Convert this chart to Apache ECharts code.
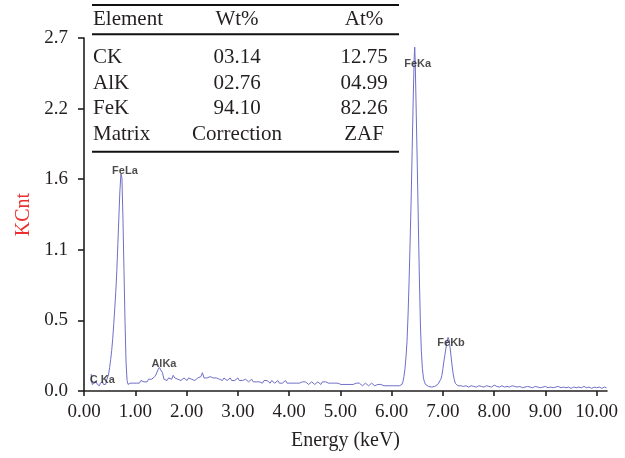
<!DOCTYPE html>
<html>
<head>
<meta charset="utf-8">
<title>EDS spectrum</title>
<script src="https://cdn.jsdelivr.net/npm/echarts@6/dist/echarts.min.js"></script>
<style>
  html, body { margin: 0; padding: 0; background: #fff; }
  #chart { width: 625px; height: 458px; }
</style>
</head>
<body>
<div id="chart"></div>
<script>
// EDS spectrum: [energy keV, KCnt]
const spectrum = [
  [0.14,0.13],[0.16,0.05],[0.18,0.04],[0.20,0.06],[0.22,0.05],[0.24,0.07],[0.26,0.05],[0.28,0.06],
  [0.30,0.04],[0.32,0.06],[0.34,0.05],[0.36,0.07],[0.38,0.05],[0.40,0.06],[0.42,0.05],[0.44,0.08],
  [0.46,0.09],[0.48,0.13],[0.50,0.18],[0.52,0.24],[0.54,0.31],[0.56,0.40],[0.58,0.51],[0.60,0.63],
  [0.62,0.76],[0.64,0.92],[0.66,1.12],[0.68,1.33],[0.70,1.53],[0.72,1.66],[0.74,1.63],[0.76,1.32],
  [0.78,0.92],[0.80,0.53],[0.82,0.22],[0.84,0.08],[0.86,0.05],[0.88,0.05],[0.90,0.06],[0.93,0.05],
  [0.96,0.06],[0.99,0.07],[1.02,0.06],[1.05,0.07],[1.08,0.06],[1.11,0.08],[1.14,0.07],[1.17,0.07],
  [1.20,0.08],[1.23,0.07],[1.26,0.09],[1.29,0.08],[1.32,0.09],[1.35,0.10],[1.38,0.11],[1.41,0.13],
  [1.44,0.16],[1.47,0.18],[1.50,0.19],[1.53,0.14],[1.56,0.09],[1.59,0.08],[1.62,0.08],[1.65,0.10],
  [1.68,0.11],[1.71,0.09],[1.74,0.12],[1.77,0.10],[1.80,0.11],[1.83,0.09],[1.86,0.10],[1.89,0.08],
  [1.92,0.09],[1.95,0.10],[1.98,0.09],[2.01,0.08],[2.04,0.10],[2.07,0.09],[2.10,0.09],[2.13,0.10],
  [2.16,0.08],[2.19,0.09],[2.22,0.10],[2.25,0.09],[2.28,0.11],[2.31,0.14],[2.34,0.10],[2.37,0.11],
  [2.40,0.10],[2.43,0.09],[2.46,0.11],[2.49,0.12],[2.52,0.10],[2.55,0.09],[2.58,0.10],[2.61,0.11],
  [2.64,0.09],[2.67,0.10],[2.70,0.08],[2.73,0.10],[2.76,0.09],[2.79,0.08],[2.82,0.09],[2.85,0.10],
  [2.88,0.08],[2.91,0.09],[2.94,0.08],[2.97,0.09],[3.00,0.10],[3.03,0.08],[3.06,0.09],[3.09,0.08],
  [3.12,0.07],[3.15,0.09],[3.18,0.08],[3.21,0.07],[3.24,0.08],[3.27,0.09],[3.30,0.07],[3.33,0.08],
  [3.36,0.07],[3.39,0.08],[3.42,0.07],[3.45,0.08],[3.48,0.06],[3.51,0.08],[3.54,0.07],[3.57,0.08],
  [3.60,0.07],[3.63,0.06],[3.66,0.08],[3.69,0.07],[3.72,0.06],[3.75,0.07],[3.78,0.08],[3.81,0.06],
  [3.84,0.07],[3.87,0.06],[3.90,0.07],[3.93,0.08],[3.96,0.06],[3.99,0.07],[4.02,0.06],[4.05,0.07],
  [4.08,0.06],[4.11,0.07],[4.14,0.06],[4.17,0.07],[4.20,0.06],[4.23,0.05],[4.26,0.07],[4.29,0.06],
  [4.32,0.07],[4.35,0.06],[4.38,0.05],[4.41,0.06],[4.44,0.07],[4.47,0.06],[4.50,0.05],[4.53,0.06],
  [4.56,0.07],[4.59,0.06],[4.62,0.05],[4.65,0.07],[4.68,0.06],[4.71,0.07],[4.74,0.08],[4.77,0.06],
  [4.80,0.05],[4.83,0.06],[4.86,0.05],[4.89,0.06],[4.92,0.05],[4.95,0.06],[4.98,0.07],[5.01,0.05],
  [5.04,0.06],[5.07,0.05],[5.10,0.06],[5.13,0.05],[5.16,0.06],[5.19,0.05],[5.22,0.06],[5.25,0.05],
  [5.28,0.04],[5.31,0.06],[5.34,0.05],[5.37,0.06],[5.40,0.05],[5.43,0.04],[5.46,0.05],[5.49,0.06],
  [5.52,0.05],[5.55,0.04],[5.58,0.05],[5.61,0.06],[5.64,0.05],[5.67,0.04],[5.70,0.05],[5.73,0.05],
  [5.76,0.04],[5.79,0.05],[5.82,0.06],[5.85,0.04],[5.88,0.05],[5.91,0.04],[5.94,0.05],[5.97,0.04],
  [6.00,0.05],[6.03,0.04],[6.06,0.05],[6.09,0.04],[6.12,0.05],[6.15,0.04],[6.18,0.05],[6.20,0.05],
  [6.22,0.07],[6.24,0.11],[6.26,0.17],[6.28,0.26],[6.30,0.38],[6.32,0.58],[6.34,0.84],[6.36,1.14],
  [6.38,1.46],[6.40,1.84],[6.42,2.22],[6.44,2.55],[6.45,2.63],[6.46,2.52],[6.48,2.12],[6.50,1.72],
  [6.52,1.30],[6.54,0.88],[6.56,0.52],[6.58,0.30],[6.60,0.17],[6.62,0.10],[6.64,0.07],[6.66,0.05],
  [6.69,0.04],[6.72,0.035],[6.75,0.04],[6.78,0.03],[6.81,0.04],[6.84,0.035],[6.87,0.04],[6.90,0.05],
  [6.93,0.06],[6.96,0.09],[6.98,0.12],[7.00,0.17],[7.02,0.23],[7.04,0.28],[7.06,0.33],[7.08,0.38],
  [7.10,0.41],[7.12,0.39],[7.14,0.33],[7.16,0.26],[7.18,0.19],[7.20,0.13],[7.22,0.09],[7.24,0.06],
  [7.26,0.045],[7.29,0.04],[7.32,0.035],[7.35,0.04],[7.40,0.035],[7.45,0.04],[7.50,0.03],[7.55,0.04],
  [7.60,0.035],[7.65,0.03],[7.70,0.04],[7.75,0.035],[7.80,0.03],[7.85,0.04],[7.90,0.035],[7.95,0.03],
  [8.00,0.045],[8.05,0.035],[8.10,0.03],[8.15,0.04],[8.20,0.03],[8.25,0.035],[8.30,0.03],[8.35,0.04],
  [8.40,0.035],[8.45,0.03],[8.50,0.035],[8.55,0.025],[8.60,0.03],[8.65,0.035],[8.70,0.03],[8.75,0.025],
  [8.80,0.035],[8.85,0.03],[8.90,0.025],[8.95,0.03],[9.00,0.035],[9.05,0.025],[9.10,0.03],[9.15,0.025],
  [9.20,0.03],[9.25,0.035],[9.30,0.025],[9.35,0.03],[9.40,0.025],[9.45,0.03],[9.50,0.02],[9.55,0.03],
  [9.60,0.025],[9.65,0.03],[9.70,0.025],[9.75,0.035],[9.80,0.025],[9.85,0.03],[9.90,0.02],[9.95,0.03],
  [10.00,0.025],[10.05,0.03],[10.10,0.02],[10.15,0.03],[10.19,0.025]
];

// Identified lines and the energy (keV) of the spectrum point they annotate
const peakNames = ['C Ka', 'FeLa', 'AlKa', 'FeKa', 'FeKb'];
const peakEnergies = [0.28, 0.72, 1.50, 6.45, 7.10];

// Quantification table
const tableHeader = ['Element', 'Wt%', 'At%'];
const elements = ['CK', 'AlK', 'FeK', 'Matrix'];
const weightPct = ['03.14', '02.76', '94.10', 'Correction'];
const atomicPct = ['12.75', '04.99', '82.26', 'ZAF'];

// Axis ticks
const xTickValues = [0, 1, 2, 3, 4, 5, 6, 7, 8, 9, 10];
const yTickValues = [0, 0.54, 1.08, 1.62, 2.16, 2.7];

const INK = '#231f20';
const SERIF = 'Liberation Serif';

// label offsets (px) relative to the annotated point
const labelOffsets = {
  'C Ka': [4, -3], 'FeLa': [4, -3.5], 'AlKa': [3, -2], 'FeKa': [3, 17], 'FeKb': [3, 6]
};

function countAt(keV) {
  const p = spectrum.find(d => Math.abs(d[0] - keV) < 1e-6);
  return p ? p[1] : 0;
}

const peakData = peakNames.map((name, i) => ({
  name: name,
  value: [peakEnergies[i], countAt(peakEnergies[i])],
  label: { offset: labelOffsets[name] }
}));

// table drawn as graphic elements
const colX = { left: 93, wt: 237, at: 364 };
const rowCenters = [19.5, 57.5, 83, 108.5, 134];
const tableFont = '21px "' + SERIF + '"';
const graphics = [];
function addText(text, x, y, align) {
  graphics.push({
    type: 'text', x: x, y: y, silent: true,
    style: { text: text, font: tableFont, fill: INK, textAlign: align, textVerticalAlign: 'middle' }
  });
}
function addRule(y) {
  graphics.push({
    type: 'line', silent: true,
    shape: { x1: 92, y1: y, x2: 399, y2: y },
    style: { stroke: '#111', lineWidth: 2 }
  });
}
addRule(5); addRule(34.3); addRule(151.7);
addText(tableHeader[0], colX.left, rowCenters[0], 'left');
addText(tableHeader[1], colX.wt, rowCenters[0], 'center');
addText(tableHeader[2], colX.at, rowCenters[0], 'center');
elements.forEach((el, i) => {
  addText(el, colX.left, rowCenters[i + 1], 'left');
  addText(weightPct[i], colX.wt, rowCenters[i + 1], 'center');
  addText(atomicPct[i], colX.at, rowCenters[i + 1], 'center');
});

const chart = echarts.init(document.getElementById('chart'), null, { renderer: 'canvas' });
chart.setOption({
  animation: false,
  backgroundColor: '#ffffff',
  grid: { left: 84, right: 18, top: 38, bottom: 67, containLabel: false },
  xAxis: {
    type: 'value', min: 0, max: 10.2,
    name: 'Energy (keV)', nameLocation: 'middle', nameGap: 40,
    nameTextStyle: { fontFamily: SERIF, fontSize: 20, color: INK },
    axisLine: { lineStyle: { color: INK, width: 1.6 } },
    axisTick: { show: true, customValues: xTickValues, length: 5, lineStyle: { color: INK, width: 1.6 } },
    axisLabel: {
      customValues: xTickValues, margin: 12,
      fontFamily: SERIF, fontSize: 19, color: INK,
      formatter: v => v.toFixed(2)
    },
    splitLine: { show: false }
  },
  yAxis: {
    type: 'value', min: 0, max: 2.7,
    name: 'KCnt', nameLocation: 'middle', nameGap: 50, nameRotate: 90,
    nameTextStyle: { fontFamily: SERIF, fontSize: 20, color: '#ec3030' },
    axisLine: { show: true, lineStyle: { color: INK, width: 1.6 } },
    axisTick: { show: true, customValues: yTickValues, length: 6, lineStyle: { color: INK, width: 1.6 } },
    axisLabel: {
      customValues: yTickValues, margin: 16,
      fontFamily: SERIF, fontSize: 19, color: INK,
      formatter: v => v.toFixed(1)
    },
    splitLine: { show: false }
  },
  graphic: graphics,
  series: [
    {
      type: 'line',
      data: spectrum,
      showSymbol: false,
      symbol: 'none',
      silent: true,
      lineStyle: { color: '#6f6fc8', width: 1 },
      z: 2
    },
    {
      type: 'scatter',
      data: peakData,
      symbolSize: 1,
      silent: true,
      itemStyle: { color: 'rgba(0,0,0,0)' },
      label: {
        show: true, position: 'inside',
        formatter: p => p.name,
        fontFamily: 'Liberation Sans', fontWeight: 'bold', fontSize: 11, color: '#1e1e1e'
      },
      z: 3
    }
  ]
});
</script>
</body>
</html>
